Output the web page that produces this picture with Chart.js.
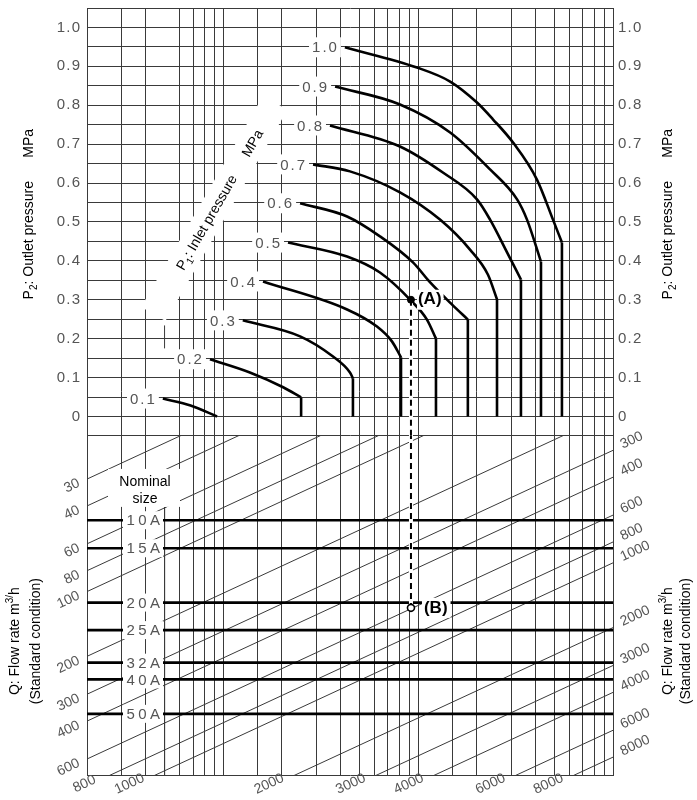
<!DOCTYPE html>
<html>
<head>
<meta charset="utf-8">
<script src="https://cdn.jsdelivr.net/npm/chart.js@4.4.1/dist/chart.umd.min.js"></script>
<style>
  html, body { margin: 0; padding: 0; background: #fff; }
</style>
</head>
<body>
<canvas id="nomo" width="697" height="800"></canvas>
<script>
// axis limits (x: log reading grid, yP: outlet pressure, yQ: flow at left edge)
const flowMin = 0.2, flowMax = 100;
const outletMin = -0.05, outletMax = 1.05;
const levelMin = 18.9, levelMax = 712;

const gridFlow = [0.2, 0.3, 0.4, 0.5, 0.6, 0.7, 0.8, 0.9, 1, 1.5, 2, 3, 4, 5, 6, 7, 8, 9,
  10, 15, 20, 30, 40, 50, 60, 70, 80, 90, 100];
const outletGrid = [-0.05, 0, 0.05, 0.1, 0.15, 0.2, 0.25, 0.3, 0.35, 0.4, 0.45, 0.5, 0.55,
  0.6, 0.65, 0.7, 0.75, 0.8, 0.85, 0.9, 0.95, 1, 1.05];
const outletLabels = [0, 0.1, 0.2, 0.3, 0.4, 0.5, 0.6, 0.7, 0.8, 0.9, 1.0];

// P1 curves
const inletPressures = [0.1, 0.2, 0.3, 0.4, 0.5, 0.6, 0.7, 0.8, 0.9, 1.0];
const curveFlow = [
  [0.49, 0.68, 0.93],
  [0.855, 1.37, 2.03, 2.51],
  [1.26, 2.48, 3.66, 4.47, 4.63],
  [1.60, 4.32, 6.15, 7.34, 8.17],
  [2.15, 4.32, 6.37, 9.19, 11.1, 12.35],
  [2.48, 4.32, 6.37, 9.41, 11.5, 14.9, 18.0],
  [2.89, 4.47, 8.07, 12.95, 18.46, 22.8, 25.4],
  [3.53, 8.07, 13.4, 20.05, 23.4, 28.6, 33.7],
  [3.75, 8.07, 14.6, 23.4, 32.2, 36.2, 42.7],
  [4.21, 9.87, 14.6, 20.05, 24.2, 30.7, 40.7, 49.2, 54.7]
];
const curveOutlet = [
  [0.046, 0.028, 0],
  [0.147, 0.113, 0.075, 0.049],
  [0.247, 0.206, 0.154, 0.113, 0.098],
  [0.347, 0.275, 0.231, 0.193, 0.152],
  [0.447, 0.411, 0.370, 0.298, 0.249, 0.200],
  [0.548, 0.514, 0.463, 0.396, 0.345, 0.288, 0.249],
  [0.648, 0.630, 0.576, 0.506, 0.429, 0.365, 0.301],
  [0.748, 0.694, 0.627, 0.558, 0.506, 0.422, 0.352],
  [0.848, 0.802, 0.730, 0.635, 0.558, 0.506, 0.398],
  [0.949, 0.897, 0.861, 0.807, 0.764, 0.704, 0.609, 0.506, 0.447]
];

// nominal size lines
const nominalSizes = ['10A', '15A', '20A', '25A', '32A', '40A', '50A'];
const nominalLevels = [46.6, 62.9, 112.5, 151, 214, 256, 370];

// flow rate diagonals, m3/h
const flowRates = [30, 40, 60, 80, 100, 200, 300, 400, 600, 800, 1000, 2000, 3000, 4000, 6000, 8000];
const flowLineSlope = 0.42;

// example reading
const pointA = {flow: 9.19, outlet: 0.30};
const pointB = {flow: 9.19, level: 119};

const lineColor = '#3a3a3a';
const numFont = '"Liberation Sans", Arial, sans-serif';
const textFont = '"Liberation Sans", Arial, Helvetica, sans-serif';

const datasets = [];
const lineDs = (data, axis, extra) => Object.assign({
  data, yAxisID: axis, showLine: true, pointRadius: 0, borderColor: '#000',
  borderWidth: 1, fill: false
}, extra);

// flow diagonals
flowRates.forEach(q => {
  datasets.push(lineDs([
    {x: flowMin, y: q},
    {x: flowMax, y: q * Math.pow(flowMax / flowMin, -flowLineSlope)}
  ], 'yQ', {borderColor: lineColor, order: 6}));
});

// hidden 0.5 grid line pieces
datasets.push(lineDs([{x: 0.5, y: 0.175}, {x: 0.5, y: 0.234}], 'yP', {borderColor: lineColor, order: 7}));
datasets.push(lineDs([{x: 0.5, y: 40.5}, {x: 0.5, y: levelMax}], 'yQ', {borderColor: lineColor, order: 7}));

// nominal size lines
nominalLevels.forEach(l => {
  datasets.push(lineDs([{x: flowMin, y: l}, {x: flowMax, y: l}], 'yQ', {borderWidth: 2.6, order: 5}));
});

// P1 curves with vertical drop
inletPressures.forEach((p, i) => {
  const pts = curveFlow[i].map((v, j) => ({x: v, y: curveOutlet[i][j]}));
  datasets.push(lineDs(pts, 'yP', {borderWidth: 2.6, cubicInterpolationMode: 'monotone', order: 4}));
  const last = pts[pts.length - 1];
  if (last.y > 0) {
    datasets.push(lineDs([last, {x: last.x, y: 0}], 'yP', {borderWidth: 2.6, order: 4}));
  }
});

// A -> B reading line
datasets.push(lineDs([{x: pointA.flow, y: pointA.outlet}, {x: pointA.flow, y: outletMin}], 'yP',
  {borderColor: '#fff', borderWidth: 4, order: 3}));
datasets.push(lineDs([{x: pointA.flow, y: pointA.outlet}, {x: pointA.flow, y: outletMin}], 'yP',
  {borderWidth: 2, borderDash: [6, 4], order: 2}));
datasets.push(lineDs([{x: pointB.flow, y: levelMin}, {x: pointB.flow, y: pointB.level}], 'yQ',
  {borderColor: '#fff', borderWidth: 4, order: 3}));
datasets.push(lineDs([{x: pointB.flow, y: levelMin}, {x: pointB.flow, y: pointB.level}], 'yQ',
  {borderWidth: 2, borderDash: [6, 4], borderDashOffset: 3, order: 2}));
datasets.push({data: [{x: pointA.flow, y: pointA.outlet}], yAxisID: 'yP', pointRadius: 3.5,
  backgroundColor: '#000', borderColor: '#000', order: 0});
datasets.push({data: [{x: pointB.flow, y: pointB.level}], yAxisID: 'yQ', pointRadius: 3.5,
  backgroundColor: '#fff', borderColor: '#000', borderWidth: 1.6, order: 0});

// keep each dataset inside its own panel
const panelClip = {
  id: 'panelClip',
  beforeDatasetDraw(chart, args) {
    const sc = chart.scales[chart.data.datasets[args.index].yAxisID];
    const a = chart.chartArea;
    chart.ctx.save();
    chart.ctx.beginPath();
    chart.ctx.rect(a.left - 5, sc.top, a.width + 10, sc.bottom - sc.top);
    chart.ctx.clip();
  },
  afterDatasetDraw(chart) {
    chart.ctx.restore();
  }
};

function drawRuns(ctx, runs, cx, cy, size, weight, color) {
  const small = Math.round(size * 0.7);
  let total = 0;
  const parts = runs.map(([t, mode]) => {
    const f = `${weight} ${mode ? small : size}px ${textFont}`;
    ctx.font = f;
    const w = ctx.measureText(t).width;
    total += w;
    return {t, mode, f, w};
  });
  let px = cx - total / 2;
  ctx.textAlign = 'left';
  ctx.textBaseline = 'alphabetic';
  ctx.fillStyle = color;
  parts.forEach(p => {
    ctx.font = p.f;
    const dy = p.mode === 1 ? size * 0.25 : p.mode === 2 ? -size * 0.45 : 0;
    ctx.fillText(p.t, px, cy + size * 0.36 + dy);
    px += p.w;
  });
}

function whiteBox(ctx, x, y, w, h) {
  ctx.fillStyle = '#fff';
  ctx.fillRect(x, y, w, h);
}

const labelPlugin = {
  id: 'labels',
  afterDatasetsDraw(chart) {
    const {ctx, chartArea: a} = chart;
    const x = chart.scales.x, yP = chart.scales.yP, yQ = chart.scales.yQ;
    ctx.save();

    // P1 title band
    ctx.save();
    ctx.translate(x.getPixelForValue(0.9), yP.getPixelForValue(0.535));
    ctx.rotate(-60 * Math.PI / 180);
    whiteBox(ctx, -122, -14, 244, 28);
    drawRuns(ctx, [['P', 0], ['1', 1], [': Inlet pressure      MPa', 0]], 10, 0, 14, 'normal', '#000');
    ctx.restore();

    // P1 curve labels
    ctx.font = '15px ' + numFont;
    ctx.letterSpacing = '2px';
    ctx.textBaseline = 'middle';
    inletPressures.forEach((p, i) => {
      const sx = x.getPixelForValue(curveFlow[i][0]);
      const sy = yP.getPixelForValue(curveOutlet[i][0]);
      const t = p.toFixed(1);
      const w = ctx.measureText(t).width;
      const rx = sx - 6;
      whiteBox(ctx, rx - w - 3, sy - 10, w + 5, 20);
      ctx.fillStyle = '#555';
      ctx.textAlign = 'right';
      ctx.fillText(t, rx, sy + 1);
    });

    // nominal size labels
    ctx.letterSpacing = '3.5px';
    const nx = a.left + 56;
    nominalSizes.forEach((s, i) => {
      const ny = yQ.getPixelForValue(nominalLevels[i]);
      whiteBox(ctx, nx - 20, ny - 9, 40, 18);
      ctx.fillStyle = '#555';
      ctx.textAlign = 'center';
      ctx.fillText(s, nx + 2, ny + 1);
    });
    ctx.letterSpacing = '0px';
    whiteBox(ctx, nx - 35, yQ.top + 33, 72, 38);
    ctx.fillStyle = '#000';
    ctx.font = '14px ' + textFont;
    ctx.textAlign = 'center';
    ctx.fillText('Nominal', nx + 2, yQ.top + 46);
    ctx.fillText('size', nx + 2, yQ.top + 63);

    // A / B
    ctx.font = 'bold 17px ' + textFont;
    ctx.textAlign = 'left';
    const ax = x.getPixelForValue(pointA.flow), ay = yP.getPixelForValue(pointA.outlet);
    let w = ctx.measureText('(A)').width;
    whiteBox(ctx, ax + 6, ay - 10, w + 3, 20);
    ctx.fillStyle = '#000';
    ctx.fillText('(A)', ax + 7, ay);
    const by = yQ.getPixelForValue(pointB.level);
    w = ctx.measureText('(B)').width;
    whiteBox(ctx, ax + 11, by - 10, w + 5, 20);
    ctx.fillStyle = '#000';
    ctx.fillText('(B)', ax + 13, by);

    // flow rate labels on the diagonals
    ctx.font = '14px ' + numFont;
    ctx.fillStyle = '#555';
    const rot = -25 * Math.PI / 180;
    flowRates.forEach(q => {
      const t = String(q);
      if (q >= yQ.min && q <= yQ.max) {
        ctx.save();
        ctx.translate(a.left - 8, yQ.getPixelForValue(q) + 3.5);
        ctx.rotate(rot);
        ctx.textAlign = 'right';
        ctx.fillText(t, 0, 0);
        ctx.restore();
      } else if (q > yQ.max) {
        const vb = x.min * Math.pow(q / yQ.max, 1 / flowLineSlope);
        ctx.save();
        ctx.translate(x.getPixelForValue(vb) - 26, a.bottom + 9);
        ctx.rotate(rot);
        ctx.textAlign = 'center';
        ctx.fillText(t, 0, 0);
        ctx.restore();
      }
      const vr = q * Math.pow(x.max / x.min, -flowLineSlope);
      if (vr >= yQ.min && vr <= yQ.max) {
        ctx.save();
        ctx.translate(a.right + 8, yQ.getPixelForValue(vr) - 5);
        ctx.rotate(rot);
        ctx.textAlign = 'left';
        ctx.fillText(t, 0, 0);
        ctx.restore();
      }
    });

    // axis titles
    const pTitle = [['P', 0], ['2', 1], [': Outlet pressure      MPa', 0]];
    const qTitle = [['Q: Flow rate m', 0], ['3/', 2], ['h', 0]];
    const py = yP.getPixelForValue(0.52);
    const qy = yQ.getPixelForValue(170);
    [[a.left - 59, py, pTitle], [a.right + 54, py, pTitle],
     [a.left - 73, qy, qTitle], [a.left - 52, qy, [['(Standard condition)', 0]]],
     [a.right + 54, qy, qTitle], [a.right + 72, qy, [['(Standard condition)', 0]]]
    ].forEach(([tx, ty, runs]) => {
      ctx.save();
      ctx.translate(tx, ty);
      ctx.rotate(-Math.PI / 2);
      drawRuns(ctx, runs, 0, 0, 14, 'normal', '#000');
      ctx.restore();
    });

    ctx.restore();
  }
};

const hair = '\u200A';
const pLabel = v => {
  const r = Math.round(v * 100) / 100;
  if (!outletLabels.some(t => Math.abs(t - r) < 1e-6)) return '';
  return r === 0 ? '0' : r.toFixed(1).split('').join(hair);
};
const fixWidth = w => s => { s.width = w; s.paddingTop = 0; s.paddingBottom = 0; };
const setTicks = list => s => { s.ticks = list.map(v => ({value: v})); };

new Chart(document.getElementById('nomo'), {
  type: 'scatter',
  data: {datasets},
  options: {
    responsive: false,
    animation: false,
    devicePixelRatio: 1,
    layout: {padding: {top: 8, left: 0, right: 0, bottom: 0}},
    plugins: {legend: {display: false}, tooltip: {enabled: false}},
    scales: {
      x: {
        type: 'logarithmic', min: flowMin, max: flowMax,
        afterBuildTicks: setTicks(gridFlow),
        ticks: {display: false},
        grid: {
          color: c => (c.tick && c.tick.value === 0.5) ? 'rgba(0,0,0,0)' : lineColor,
          drawTicks: false, lineWidth: 1
        },
        border: {display: true, color: lineColor},
        afterFit: s => { s.height = 25; s.paddingLeft = 0; s.paddingRight = 0; }
      },
      yP: {
        type: 'linear', position: 'left', stack: 'left', stackWeight: 427.9, weight: 2,
        min: outletMin, max: outletMax,
        afterBuildTicks: setTicks(outletGrid),
        ticks: {callback: pLabel, autoSkip: false, padding: 7, color: '#555',
          font: {family: numFont, size: 15, lineHeight: 1}},
        grid: {color: lineColor, drawTicks: false},
        border: {color: lineColor},
        afterFit: fixWidth(87)
      },
      yQ: {
        type: 'logarithmic', position: 'left', stack: 'left', stackWeight: 339.1, weight: 1,
        min: levelMin, max: levelMax, reverse: true,
        ticks: {display: false},
        grid: {display: false, drawTicks: false},
        border: {color: lineColor},
        afterFit: fixWidth(87)
      },
      yP2: {
        type: 'linear', position: 'right', stack: 'right', stackWeight: 427.9, weight: 1,
        min: outletMin, max: outletMax,
        afterBuildTicks: setTicks(outletGrid),
        ticks: {callback: pLabel, autoSkip: false, padding: 5, color: '#555',
          font: {family: numFont, size: 15, lineHeight: 1}},
        grid: {display: false, drawTicks: false},
        border: {color: lineColor},
        afterFit: fixWidth(84)
      },
      yQ2: {
        type: 'logarithmic', position: 'right', stack: 'right', stackWeight: 339.1, weight: 2,
        min: levelMin, max: levelMax, reverse: true,
        ticks: {display: false},
        grid: {display: false, drawTicks: false},
        border: {color: lineColor},
        afterFit: fixWidth(84)
      }
    }
  },
  plugins: [panelClip, labelPlugin]
});
</script>
</body>
</html>
